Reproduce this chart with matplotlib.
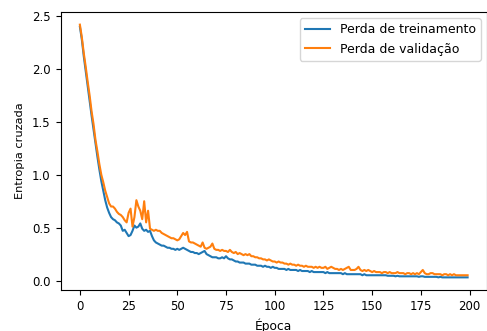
import matplotlib
matplotlib.use("Agg")
import matplotlib.pyplot as plt

train_loss = [
    2.40, 2.28, 2.12, 1.98, 1.84, 1.70, 1.56, 1.43, 1.30, 1.17,
    1.05, 0.94, 0.85, 0.76, 0.69, 0.64, 0.60, 0.58, 0.57, 0.55,
    0.54, 0.52, 0.47, 0.48, 0.45, 0.42, 0.43, 0.47, 0.52, 0.50,
    0.51, 0.54, 0.49, 0.47, 0.48, 0.46, 0.47, 0.42, 0.38, 0.36,
    0.35, 0.34, 0.33, 0.33, 0.32, 0.31, 0.31, 0.30, 0.30, 0.29,
    0.30, 0.29, 0.30, 0.31, 0.30, 0.29, 0.28, 0.27, 0.27, 0.26,
    0.26, 0.25, 0.26, 0.27, 0.28, 0.25, 0.24, 0.23, 0.22, 0.22,
    0.22, 0.21, 0.21, 0.22, 0.21, 0.23, 0.21, 0.20, 0.20, 0.19,
    0.18, 0.18, 0.17, 0.17, 0.17, 0.16, 0.16, 0.16, 0.15, 0.15,
    0.15, 0.14, 0.14, 0.14, 0.13, 0.14, 0.13, 0.13, 0.12, 0.13,
    0.12, 0.12, 0.11, 0.11, 0.11, 0.11, 0.10, 0.11, 0.10, 0.10,
    0.10, 0.10, 0.09, 0.10, 0.09, 0.09, 0.09, 0.09, 0.08, 0.09,
    0.08, 0.08, 0.08, 0.08, 0.08, 0.08, 0.07, 0.08, 0.07, 0.07,
    0.07, 0.07, 0.07, 0.07, 0.07, 0.06, 0.07, 0.06, 0.06, 0.06,
    0.06, 0.06, 0.06, 0.06, 0.06, 0.05, 0.06, 0.05, 0.05, 0.05,
    0.05, 0.05, 0.05, 0.05, 0.05, 0.05, 0.05, 0.05, 0.045, 0.045,
    0.045, 0.045, 0.04, 0.045, 0.04, 0.04, 0.04, 0.04, 0.04, 0.04,
    0.04, 0.04, 0.04, 0.04, 0.035, 0.04, 0.04, 0.035, 0.035, 0.035,
    0.035, 0.035, 0.035, 0.035, 0.03, 0.035, 0.03, 0.03, 0.03, 0.03,
    0.03, 0.03, 0.03, 0.03, 0.03, 0.03, 0.03, 0.03, 0.03, 0.03,
]

val_loss = [
    2.42, 2.30, 2.15, 2.02, 1.88, 1.75, 1.60, 1.48, 1.33, 1.22,
    1.10, 1.00, 0.93, 0.85, 0.79, 0.73, 0.70, 0.70, 0.68, 0.65,
    0.63, 0.62, 0.60, 0.57, 0.55, 0.64, 0.68, 0.51, 0.60, 0.76,
    0.70, 0.66, 0.58, 0.75, 0.55, 0.66, 0.49, 0.48, 0.47, 0.48,
    0.47, 0.47, 0.45, 0.44, 0.43, 0.42, 0.41, 0.40, 0.40, 0.39,
    0.38, 0.39, 0.42, 0.45, 0.43, 0.46, 0.37, 0.36, 0.36, 0.35,
    0.34, 0.33, 0.32, 0.36, 0.31, 0.30, 0.31, 0.32, 0.35, 0.30,
    0.29, 0.29, 0.28, 0.29, 0.28, 0.28, 0.27, 0.29, 0.27, 0.26,
    0.27, 0.25, 0.26, 0.25, 0.24, 0.25, 0.24, 0.25, 0.23, 0.23,
    0.22, 0.22, 0.21, 0.21, 0.20, 0.20, 0.19, 0.20, 0.19, 0.18,
    0.18, 0.17, 0.18, 0.17, 0.17, 0.16, 0.16, 0.15, 0.16, 0.15,
    0.15, 0.14, 0.15, 0.14, 0.14, 0.13, 0.14, 0.13, 0.13, 0.13,
    0.12, 0.13, 0.12, 0.13, 0.12, 0.12, 0.13, 0.11, 0.12, 0.13,
    0.12, 0.11, 0.11, 0.10, 0.11, 0.10, 0.11, 0.12, 0.13, 0.10,
    0.10, 0.10, 0.11, 0.13, 0.10, 0.09, 0.10, 0.09, 0.10, 0.09,
    0.08, 0.09, 0.08, 0.08, 0.08, 0.07, 0.08, 0.08, 0.07, 0.08,
    0.07, 0.07, 0.07, 0.08, 0.07, 0.07, 0.07, 0.06, 0.07, 0.07,
    0.06, 0.07, 0.06, 0.07, 0.06, 0.08, 0.10, 0.07, 0.06, 0.06,
    0.07, 0.07, 0.06, 0.06, 0.06, 0.06, 0.05, 0.06, 0.06, 0.05,
    0.06, 0.05, 0.06, 0.05, 0.05, 0.05, 0.05, 0.05, 0.05, 0.05,
]

epochs = list(range(len(train_loss)))

fig = plt.figure(figsize=(4.87, 3.31), dpi=100)
ax = fig.add_axes([60.5 / 487, 41 / 331, 426.5 / 487, 278 / 331])
ax.plot(epochs, train_loss, color="#1f77b4", linewidth=1.5, label="Perda de treinamento")
ax.plot(epochs, val_loss, color="#ff7f0e", linewidth=1.5, label="Perda de validação")
ax.set_xticks([0, 25, 50, 75, 100, 125, 150, 175, 200])
ax.set_yticks([0.0, 0.5, 1.0, 1.5, 2.0, 2.5])
ax.tick_params(labelsize=8.5)
ax.set_xlabel("Época", fontsize=8.8)
ax.set_ylabel("Entropia cruzada", fontsize=8.2, labelpad=5)
ax.legend(loc="upper right", fontsize=9)
fig.savefig("out.png", dpi=100)
